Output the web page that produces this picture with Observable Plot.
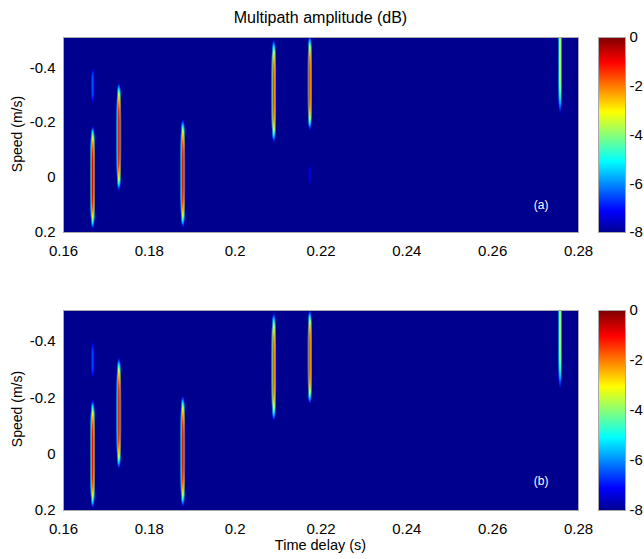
<!DOCTYPE html>
<html><head><meta charset="utf-8">
<script src="https://cdn.jsdelivr.net/npm/d3@7"></script>
<script src="https://cdn.jsdelivr.net/npm/@observablehq/plot@0.6"></script>
<style>
body{margin:0;background:#fff;}
#chart{position:relative;width:644px;height:559px;font-family:"Liberation Sans",Arial,sans-serif;color:#000;overflow:hidden;}
.abs{position:absolute;}
.title{left:63px;width:515px;top:9px;text-align:center;font-size:16px;}
.xlabel{left:63px;width:515px;top:537px;text-align:center;font-size:14.5px;}
.ylabel{width:200px;text-align:center;font-size:14px;transform:rotate(-90deg);transform-origin:center;}
svg{overflow:visible;}
</style></head><body>
<div id="chart"></div>
<script>
// axes
const xTicks = [0.16, 0.18, 0.2, 0.22, 0.24, 0.26, 0.28];
const yTicks = [-0.4, -0.2, 0, 0.2];
const cbTicks = [0, -2, -4, -6, -8];
const timeDomain = [0.16, 0.28];
const speedDomain = [0.2, -0.51];
const dbDomain = [-8, 0];
const titleText = "Multipath amplitude (dB)";
const xLabel = "Time delay (s)";
const yLabel = "Speed (m/s)";
const panelNames = ["(a)", "(b)"];

// panel (a) multipath peaks
const aTime  = [0.1668, 0.1668, 0.1729, 0.1878, 0.2090, 0.2174, 0.2174, 0.2757];
const aSpeed = [0.000, -0.335, -0.148, -0.015, -0.315, -0.345, -0.010, -0.430];
const aHalf  = [0.190, 0.065, 0.200, 0.200, 0.190, 0.175, 0.035, 0.200];
const aWidth = [0.00055, 0.0004, 0.00055, 0.00055, 0.00055, 0.0005, 0.00035, 0.00042];
const aPeak  = [-0.4, -6.3, -0.5, -0.5, -1.1, -1.0, -7.2, -3.2];

// panel (b) multipath peaks
const bTime  = [0.1668, 0.1668, 0.1729, 0.1878, 0.2090, 0.2174, 0.2757];
const bSpeed = [0.000, -0.335, -0.145, -0.010, -0.310, -0.345, -0.430];
const bHalf  = [0.195, 0.065, 0.200, 0.200, 0.195, 0.170, 0.200];
const bWidth = [0.00055, 0.0004, 0.00055, 0.00055, 0.00055, 0.0005, 0.00042];
const bPeak  = [-0.6, -6.4, -0.6, -0.5, -1.2, -1.1, -3.3];

// jet colormap
const jetDomain = [-8, -7.111, -5.079, -3.048, -1.016, 0];
const jetRange = ["#00008f", "#0000ff", "#00ffff", "#ffff00", "#ff0000", "#800000"];

function field(T, S, H, Wd, P) {
  return (x, y) => {
    let best = -8;
    for (let i = 0; i < T.length; i++) {
      const rt = (x - T[i]) / Wd[i];
      const rv = (y - S[i]) / H[i];
      const d = rv * rv * rv * rv + rt * rt;
      if (d < 1) {
        const v = P[i] - (8 + P[i]) * d;
        if (v > best) best = v;
      }
    }
    return best;
  };
}

const colorScale = {type: "linear", domain: jetDomain, range: jetRange, interpolate: "rgb", clamp: true};
const style = {fontFamily: "Liberation Sans, Arial, sans-serif", fontSize: "15px", color: "#000", background: "transparent", overflow: "visible"};

function panel(fill, name, h, nameDy) {
  return Plot.plot({
    width: 590, height: h,
    marginTop: 37, marginBottom: 37, marginLeft: 63, marginRight: 12,
    style,
    x: {domain: timeDomain, ticks: xTicks, tickFormat: d => String(d), tickSize: 0, tickPadding: 13, label: null},
    y: {domain: speedDomain, ticks: yTicks, tickFormat: d => String(d), tickSize: 0, tickPadding: 8, label: null},
    color: colorScale,
    marks: [
      Plot.raster({x1: timeDomain[0], x2: timeDomain[1], y1: speedDomain[1], y2: speedDomain[0], fill, pixelSize: 1}),
      Plot.frame({stroke: "#a8a8a8", strokeWidth: 1}),
      Plot.text([name], {text: d => d, frameAnchor: "bottom-right", dx: -30, dy: nameDy, fill: "#fff", fontFamily: "Liberation Sans, Arial, sans-serif", fontSize: 12})
    ]
  });
}

function colorbar(h) {
  return Plot.plot({
    width: 54, height: h,
    marginTop: 37, marginBottom: 37, marginLeft: 8, marginRight: 19,
    style,
    x: {domain: [0, 1], axis: null},
    y: {domain: dbDomain, ticks: cbTicks, tickFormat: d => String(d), axis: "right", tickSize: 0, tickPadding: 4, label: null},
    color: colorScale,
    marks: [
      Plot.raster({x1: 0, x2: 1, y1: dbDomain[0], y2: dbDomain[1], fill: (x, y) => y, pixelSize: 1}),
      Plot.frame({stroke: "#a8a8a8", strokeWidth: 1})
    ]
  });
}

const chart = document.getElementById("chart");
function place(el, left, top) { el.style.position = "absolute"; el.style.left = left + "px"; el.style.top = top + "px"; chart.appendChild(el); }

place(panel(field(aTime, aSpeed, aHalf, aWidth, aPeak), panelNames[0], 269, -24), 0, 0);
place(colorbar(269), 590, 0);
place(panel(field(bTime, bSpeed, bHalf, bWidth, bPeak), panelNames[1], 274, -26), 0, 273);
place(colorbar(274), 590, 273);

const t = document.createElement("div"); t.className = "abs title"; t.textContent = titleText; chart.appendChild(t);
const xl = document.createElement("div"); xl.className = "abs xlabel"; xl.textContent = xLabel; chart.appendChild(xl);
for (const top of [135, 410]) {
  const yl = document.createElement("div"); yl.className = "abs ylabel"; yl.textContent = yLabel;
  yl.style.left = (17 - 100) + "px"; yl.style.top = (top - 9) + "px"; chart.appendChild(yl);
}
</script>
</body></html>
